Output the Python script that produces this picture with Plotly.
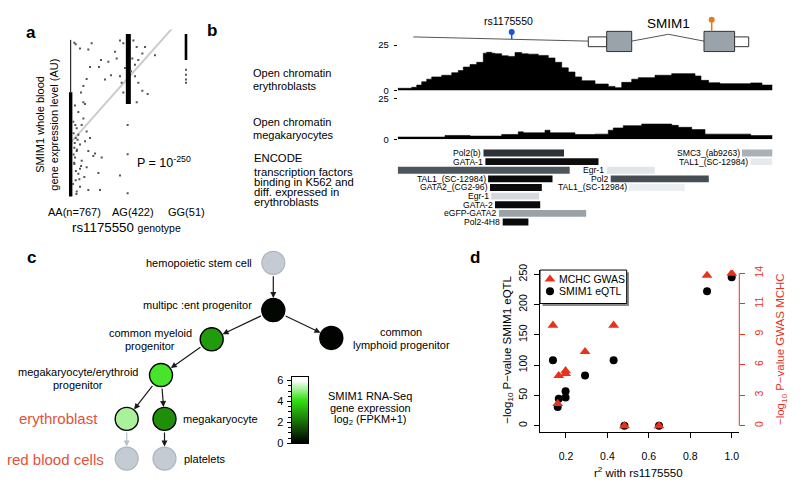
import numpy as np
import plotly.graph_objects as go

W, H = 800, 489
FONT = "Liberation Sans, Arial, Helvetica, sans-serif"
RED = "#e8321e"
LABEL_RED = "#e4513a"

# ======================= DATA =======================
# ---- Panel a : eQTL strip plot ----
geno_pos = [1, 2, 3]
geno_labels = ["AA(n=767)", "AG(422)", "GG(51)"]
dense_x = [1, 1, 2, 3]               # genotype of dense strip
dense_lo = [0.04, 6.4, 5.69, 8.37]    # expression range covered densely
dense_hi = [6.4, 9.6, 9.96, 9.96]
a_x = [1.064, 1.087, 1.364, 1.306, 1.162, 1.526, 1.653, 1.491, 1.335, 1.855,
       1.913, 1.769, 1.798, 1.699, 1.855, 1.277, 1.220, 1.179, 1.595, 2.087,
       2.145, 2.243, 2.173, 2.116, 2.046, 2.116, 2.173, 2.243, 2.335, 2.145,
       2.069, 2.289, 2.462, 1.988, 1.988, 1.988, 1.855, 1.075, 1.133, 1.220,
       1.249, 1.046, 1.104, 1.191, 1.277, 1.087, 1.162, 1.249, 1.306, 1.104,
       1.075, 1.191, 1.277, 1.133, 1.087, 1.237, 1.162, 1.104, 1.306, 1.393,
       1.480, 1.509, 1.538, 1.220, 1.133, 1.335, 1.422, 1.064, 1.162, 1.064,
       1.913, 1.884, 1.942, 3.0, 3.0, 3.0, 3.0,
       1.05, 1.07, 1.11, 1.06, 1.09, 1.15, 1.04, 1.08, 1.12, 1.05, 1.18, 1.10]
a_y = [9.42, 9.33, 9.40, 9.01, 9.07, 8.37, 8.27, 7.94, 7.94, 9.56,
       9.40, 8.87, 8.47, 7.44, 7.38, 7.22, 6.79, 6.39, 7.18, 9.56,
       9.17, 8.77, 8.37, 8.08, 7.68, 7.38, 6.98, 6.49, 6.29, 5.79,
       8.47, 9.17, 8.67, 4.40, 2.62, 0.24, 1.33, 5.60, 5.20, 5.79,
       5.69, 4.60, 4.21, 4.40, 4.01, 3.61, 3.21, 3.41, 2.82, 2.82,
       2.42, 2.22, 1.83, 1.43, 1.03, 1.23, 0.63, 0.34, 0.44, 2.52,
       1.47, 0.44, 2.42, 4.80, 3.81, 3.61, 2.66, 2.02, 1.73, 3.02,
       6.39, 6.98, 7.88, 7.78, 7.48, 7.18, 6.98,
       3.9, 3.3, 2.9, 2.1, 1.6, 1.1, 0.8, 4.4, 3.5, 2.6, 1.9, 0.2]
reg_x = [1.0, 2.8]
reg_y = [3.33, 10.46]

# ---- Panel b : genome tracks (bp offset from region start) ----
ery_edges = [0, 140, 190, 240, 290, 340, 440, 540, 606, 656, 723, 790, 856, 890, 940,
             973, 1040, 1106, 1173, 1240, 1306, 1406, 1506, 1573, 1640, 1706, 1773,
             1840, 1973, 2106, 2173, 2240, 2340, 2406, 2573, 2740, 2973, 3033, 3109,
             3223, 3530, 3643, 3748]
ery_vals = [1.25, 1.8, 3.0, 4.8, 6.25, 7.5, 8.4, 9.8, 11, 12.9, 14.3, 15.5, 20.5, 21,
            20.5, 20.2, 19.1, 18.75, 20.9, 20.2, 20, 19.3, 17.9, 15.5, 12.5, 10.2, 7.5,
            5.4, 3.6, 2.3, 1.6, 4.5, 6.25, 7.1, 8.4, 9.3, 8, 5.6, 4.3, 3.8, 4.2, 3.0]
mk_edges = [0, 473, 723, 1040, 1206, 1256, 1473, 1523, 1773, 1973, 2106, 2156, 2256,
            2440, 2740, 2806, 2940, 3073, 3530, 3748]
mk_vals = [1.4, 2.4, 2.0, 3.0, 4.6, 4.0, 5.6, 4.0, 3.0, 3.2, 5.6, 7, 8.4, 9.4, 8.6,
           7.4, 6, 3.2, 2.3]

tf_names = ["Pol2(b)", "SMC3_(ab9263)", "GATA-1", "TAL1_(SC-12984)", "",
            "Egr-1", "TAL1_(SC-12984)", "Pol2", "GATA2_(CG2-96)", "TAL1_(SC-12984)",
            "Egr-1", "GATA-2", "eGFP-GATA2", "Pol2-4H8"]
tf_rows = [0, 0, 1, 1, 2, 2, 3, 3, 4, 4, 5, 6, 7, 8]
tf_start = [858, 3443, 877, 3529, 0, 2092, 904, 2130, 923, 2314, 935, 973, 1012, 1050]
tf_end = [1663, 3748, 2008, 3748, 1720, 2571, 1548, 3111, 1441, 2870, 1414, 1425, 1885, 1307]
tf_colors = ["#2b3238", "#a9b1b6", "#0d0d0d", "#e6eaee", "#4b565d", "#e1e5ea",
             "#0a0a0a", "#464e54", "#0a0a0a", "#eceff2", "#d3d9de", "#0a0a0a",
             "#9aa2a7", "#0a0a0a"]

gene_line_x = [156, 1906]
exon_start = [1906, 2090, 3063, 3369]
exon_end = [2090, 2340, 3369, 3510]
exon_kind = ["utr", "cds", "cds", "utr"]
intron_x = [2340, 2707, 3063]
snp_pos = [1140, 3140]
snp_label = ["rs1175550", ""]
snp_color = ["#2050e0", "#e07b20"]

# ---- Panel c : haematopoietic tree ----
node_names = ["hemopoietic stem cell", "multipotent progenitor", "common myeloid progenitor",
              "common lymphoid progenitor", "megakaryocyte/erythroid progenitor",
              "erythroblast", "megakaryocyte", "red blood cells", "platelets"]
node_expr = [None, 0.15, 2.8, 0.05, 4.3, 5.2, 2.6, None, None]   # log2(FPKM+1)
node_x = [273.3, 273.3, 211.7, 331.3, 161.0, 126.7, 164.5, 126.7, 164.5]   # layout
node_y = [263.3, 311.7, 341.7, 340.3, 378.3, 423.3, 423.3, 464.0, 464.0]
edges = [(0, 1), (1, 2), (1, 3), (2, 4), (4, 5), (4, 6), (5, 7), (6, 8)]
cbar_ticks = [0, 2, 4, 6]

# ---- Panel d : eQTL vs GWAS ----
r2 = [0.137, 0.165, 0.160, 0.198, 0.198, 0.292, 0.430, 0.482, 0.649, 0.881, 1.0]
eqtl = [108, 44.5, 31, 57, 46.7, 83, 108, 0, 0, 222, 245]
gwas = [9.22, 4.6, 2.03, 5.04, 4.78, 6.8, 9.22, 0, 0, 13.8, 14.0]
d_xticks = [0.2, 0.4, 0.6, 0.8, 1.0]
d_yticks = [0, 50, 100, 150, 200, 250]
d_rticks = [0, 2.8, 5.6, 8.4, 11.2, 14]
d_rticktext = ["0", "3", "6", "9", "11", "14"]

# ======================= FIGURE =======================
def pxx(x):
    return x / W


def pxy(y):
    return 1 - y / H


def txt(x, y, s, size=11, color="black", xanchor="center", yanchor="middle", angle=0):
    return dict(x=pxx(x), y=pxy(y), xref="paper", yref="paper", text=s, showarrow=False,
                font=dict(family=FONT, size=size, color=color), xanchor=xanchor,
                yanchor=yanchor, textangle=angle, borderpad=0)


fig = go.Figure()
annotations = []
shapes = []

# ---------- panel a ----------
fig.add_trace(go.Scatter(x=reg_x, y=reg_y, mode="lines", line=dict(color="#c8cccf", width=2),
                         xaxis="x", yaxis="y", hoverinfo="skip"))
for xv, lo, hi, w in zip(dense_x, dense_lo, dense_hi, [3.4, 1.0, 5.0, 2.6]):
    fig.add_trace(go.Scatter(x=[xv, xv], y=[lo, hi], mode="lines",
                             line=dict(color="black", width=w), xaxis="x", yaxis="y",
                             hoverinfo="skip"))
fig.add_trace(go.Scatter(x=a_x, y=a_y, mode="markers",
                         marker=dict(color="#555555", size=2.0, symbol="square"),
                         xaxis="x", yaxis="y", hoverinfo="skip"))

label_px = [74.2, 132.5, 186]
for lab, xp in zip(geno_labels, label_px):
    annotations.append(txt(xp, 211.5, lab, size=11))
annotations.append(txt(126.7, 227, "rs1175550 <span style='font-size:10.5px'>genotype</span>", size=13.3))
annotations.append(txt(40, 121.7, "SMIM1 whole blood", size=11, angle=-90))
annotations.append(txt(54, 121.7, "gene expression level (AU)", size=11, angle=-90))
annotations.append(txt(136, 159.5, "P = 10<sup>%d</sup>" % -250, size=12.5, xanchor="left"))

# ---------- panel b ----------
fig.add_trace(go.Scatter(x=ery_edges, y=ery_vals + [ery_vals[-1]], mode="lines",
                         line=dict(shape="hv", color="black", width=0.6), fill="tozeroy",
                         fillcolor="black", xaxis="x2", yaxis="y2", hoverinfo="skip"))
fig.add_trace(go.Scatter(x=mk_edges, y=mk_vals + [mk_vals[-1]], mode="lines",
                         line=dict(shape="hv", color="black", width=0.6), fill="tozeroy",
                         fillcolor="black", xaxis="x2", yaxis="y3", hoverinfo="skip"))
fig.add_trace(go.Bar(orientation="h", y=tf_rows, base=tf_start,
                     x=[e - s for s, e in zip(tf_start, tf_end)],
                     marker=dict(color=tf_colors, line=dict(width=0)), width=0.8,
                     xaxis="x2", yaxis="y4", hoverinfo="skip"))
for name, r, s in zip(tf_names, tf_rows, tf_start):
    if name:
        annotations.append(dict(x=s, y=r, xref="x2", yref="y4", text=name, showarrow=False,
                                xanchor="right", yanchor="middle", xshift=-1.5,
                                font=dict(family=FONT, size=8.6, color="black"), borderpad=0))

# gene model (y in gene-track units, reversed axis)
shapes.append(dict(type="line", xref="x2", yref="y5", x0=gene_line_x[0], y0=31.7,
                   x1=gene_line_x[1], y1=36.0, line=dict(color="#555555", width=1)))
shapes.append(dict(type="path", xref="x2", yref="y5",
                   path="M %g 36 L %g 29 L %g 36" % tuple(intron_x),
                   line=dict(color="#555555", width=1)))
for s, e, k in zip(exon_start, exon_end, exon_kind):
    y0, y1 = (31.7, 41.7) if k == "utr" else (26.0, 46.7)
    shapes.append(dict(type="rect", xref="x2", yref="y5", x0=s, x1=e, y0=y0, y1=y1,
                       fillcolor="white" if k == "utr" else "#9aa3a9",
                       line=dict(color="#333333", width=1)))
snp_head = [26.7, 14.0]
snp_base = [34.1, 26.0]
for p, hy, by, c in zip(snp_pos, snp_head, snp_base, snp_color):
    shapes.append(dict(type="line", xref="x2", yref="y5", x0=p, x1=p, y0=hy, y1=by,
                       line=dict(color=c, width=1.5)))
fig.add_trace(go.Scatter(x=snp_pos, y=snp_head, mode="markers",
                         marker=dict(color=snp_color, size=6), xaxis="x2", yaxis="y5",
                         hoverinfo="skip"))
annotations.append(txt(508.3, 15.0, snp_label[0], size=10.5))
annotations.append(txt(668.3, 18.3, "SMIM1", size=13.5))

annotations.append(txt(252, 69, "Open chromatin", size=11, xanchor="left"))
annotations.append(txt(252, 81.7, "erythroblasts", size=11, xanchor="left"))
annotations.append(txt(252, 119, "Open chromatin", size=11, xanchor="left"))
annotations.append(txt(252, 132.3, "megakaryocytes", size=11, xanchor="left"))
for yy, s in zip([156, 170, 180.7, 191, 201],
                 ["ENCODE", "transcription factors", "binding in K562 and",
                  "diff. expressed in", "erythroblasts"]):
    annotations.append(txt(252.7, yy, s, size=11.3, xanchor="left"))

# ---------- panel c ----------
cscale = [[0.0, "#000000"], [0.68, "#30e010"], [1.0, "#ffffff"]]
for (a, b) in edges:
    col = "#b8c0c8" if node_names[b] == "red blood cells" else "#1a1a1a"
    annotations.append(dict(x=node_x[b], y=node_y[b], ax=node_x[a], ay=node_y[a],
                            xref="x3", yref="y6", axref="x3", ayref="y6", text="",
                            showarrow=True, arrowhead=2, arrowsize=1, arrowwidth=1.2,
                            arrowcolor=col, standoff=12, startstandoff=12))
gray_idx = [i for i, v in enumerate(node_expr) if v is None]
col_idx = [i for i, v in enumerate(node_expr) if v is not None]
fig.add_trace(go.Scatter(x=[node_x[i] for i in gray_idx], y=[node_y[i] for i in gray_idx],
                         mode="markers", marker=dict(size=23, color="#c4cbd2",
                                                     line=dict(color="#adb5bd", width=1.2)),
                         xaxis="x3", yaxis="y6", hoverinfo="skip"))
fig.add_trace(go.Scatter(x=[node_x[i] for i in col_idx], y=[node_y[i] for i in col_idx],
                         mode="markers",
                         marker=dict(size=23, color=[node_expr[i] for i in col_idx],
                                     colorscale=cscale, cmin=0, cmax=6,
                                     line=dict(color="black", width=1.4)),
                         xaxis="x3", yaxis="y6", hoverinfo="skip"))
annotations.append(txt(253, 263.3, "hemopoietic stem cell", xanchor="right"))
annotations.append(txt(253, 306.7, "multipc :ent progenitor", xanchor="right"))
annotations.append(txt(150, 335, "common myeloid"))
annotations.append(txt(150, 348.3, "progenitor"))
annotations.append(txt(401, 334.3, "common"))
annotations.append(txt(401, 347.3, "lymphoid progenitor"))
annotations.append(txt(77.7, 375, "megakaryocyte/erythroid"))
annotations.append(txt(77.7, 388.3, "progenitor"))
annotations.append(txt(99.3, 422.5, "erythroblast", size=15, color=LABEL_RED, xanchor="right"))
annotations.append(txt(105, 464.5, "red blood cells", size=15, color=LABEL_RED, xanchor="right"))
annotations.append(txt(181.7, 423.3, "megakaryocyte", xanchor="left"))
annotations.append(txt(182.7, 464, "platelets", xanchor="left"))

# colour key
levels = np.linspace(0, 6.4, 129)
fig.add_trace(go.Heatmap(x=[0], y=levels, z=[[v] for v in levels], colorscale=cscale,
                         zmin=0, zmax=6, showscale=False, xaxis="x4", yaxis="y7",
                         hoverinfo="skip"))
annotations.append(txt(370, 399.3, "SMIM1 RNA-Seq"))
annotations.append(txt(370, 412.3, "gene expression"))
annotations.append(txt(370, 424.5, "log<sub>2</sub> (FPKM+1)"))

# ---------- panel d ----------
fig.add_trace(go.Scatter(x=r2, y=eqtl, mode="markers", name="SMIM1 eQTL",
                         marker=dict(color="black", size=8), xaxis="x5", yaxis="y8",
                         hoverinfo="skip"))
fig.add_trace(go.Scatter(x=r2, y=gwas, mode="markers", name="MCHC GWAS",
                         marker=dict(color=RED, size=9.5, symbol="triangle-up"),
                         xaxis="x5", yaxis="y9", hoverinfo="skip"))
# legend box (manual, R style with shadow)
shapes.append(dict(type="rect", xref="paper", yref="paper", x0=pxx(542.5), x1=pxx(629),
                   y0=pxy(307.5), y1=pxy(273), fillcolor="#8a8a8a", line=dict(width=0),
                   layer="below"))
shapes.append(dict(type="rect", xref="paper", yref="paper", x0=pxx(540), x1=pxx(626.7),
                   y0=pxy(305), y1=pxy(270.7), fillcolor="white",
                   line=dict(color="black", width=1), layer="below"))
fig.add_trace(go.Scatter(x=[0.1227], y=[241.9], mode="markers",
                         marker=dict(color=RED, size=9.5, symbol="triangle-up"),
                         xaxis="x5", yaxis="y8", hoverinfo="skip"))
fig.add_trace(go.Scatter(x=[0.1227], y=[222.1], mode="markers",
                         marker=dict(color="black", size=8), xaxis="x5", yaxis="y8",
                         hoverinfo="skip"))
annotations.append(txt(558.3, 280, "MCHC GWAS", size=10.5, xanchor="left"))
annotations.append(txt(558.3, 292.3, "SMIM1 eQTL", size=10.5, xanchor="left"))
shapes.append(dict(type="line", xref="paper", yref="y9", x0=pxx(739.3), x1=pxx(739.3),
                   y0=0, y1=14, line=dict(color=RED, width=1)))
annotations.append(txt(508.3, 352, "\u2212log<sub>10</sub> P\u2212value SMIM1 eQTL",
                       size=11.5, angle=-90))
annotations.append(txt(781.7, 352, "\u2212log<sub>10</sub> P\u2212value GWAS MCHC",
                       size=11.5, color=RED, angle=-90))
annotations.append(txt(638.3, 477.3, "r<sup>2</sup> with rs1175550", size=11.5))

# panel letters
for lx, ly, letter in [(30.5, 27, "a"), (211.5, 25, "b"), (31.7, 258.3, "c"), (475, 258.3, "d")]:
    annotations.append(txt(lx, ly, "<b>%s</b>" % letter, size=17))

hidden = dict(visible=False, showgrid=False, zeroline=False)
trackaxis = dict(range=[0, 25], tickvals=[0, 25], ticks="outside", ticklen=3, tickwidth=1,
                 tickcolor="black", showline=False, showgrid=False, zeroline=False,
                 tickfont=dict(family=FONT, size=9.5, color="black"), anchor="x2",
                 ticklabelstandoff=3)

fig.update_layout(
    width=W, height=H, autosize=False, margin=dict(l=0, r=0, t=0, b=0),
    paper_bgcolor="white", plot_bgcolor="rgba(0,0,0,0)", showlegend=False,
    font=dict(family=FONT, size=11, color="black"),
    # panel a
    xaxis=dict(domain=[pxx(55), pxx(200)], range=[0.728, 3.243], anchor="y", **hidden),
    yaxis=dict(domain=[pxy(199), pxy(24)], range=[-0.18, 10.24], anchor="x", **hidden),
    # panel b
    xaxis2=dict(domain=[pxx(397.7), pxx(772.5)], range=[0, 3748], anchor="y2", **hidden),
    yaxis2=dict(domain=[pxy(86.7), pxy(40)], **trackaxis),
    yaxis3=dict(domain=[pxy(136.7), pxy(95)], **trackaxis),
    yaxis4=dict(domain=[pxy(225.8), pxy(146.3)], range=[8.5, -0.5], anchor="x2", **hidden),
    yaxis5=dict(domain=[pxy(50), pxy(5)], range=[50, 5], anchor="x2", **hidden),
    # panel c
    xaxis3=dict(domain=[0, pxx(480)], range=[0, 480], anchor="y6", **hidden),
    yaxis6=dict(domain=[pxy(489), pxy(240)], range=[489, 240], anchor="x3", **hidden),
    xaxis4=dict(domain=[pxx(291.7), pxx(308.3)], range=[-0.5, 0.5], anchor="y7",
                showline=True, mirror=True, linecolor="black", linewidth=1.3,
                showticklabels=False, ticks="", showgrid=False, zeroline=False),
    yaxis7=dict(domain=[pxy(448.3), pxy(380)], range=[0, 6.37], anchor="x4",
                showline=True, mirror=True, linecolor="black", linewidth=1.3,
                tickvals=cbar_ticks, ticks="outside", ticklen=4, tickcolor="black",
                tickfont=dict(family=FONT, size=11), showgrid=False, zeroline=False,
                minor=dict(ticks="outside", ticklen=2.5, dtick=0.5, tickcolor="black",
                           showgrid=False),
                ticklabelstandoff=1),
    # panel d
    xaxis5=dict(domain=[pxx(540), pxx(739.3)], range=[0.0745, 1.0367], anchor="y8",
                showline=True, linecolor="black", linewidth=1, ticks="outside", ticklen=5,
                tickcolor="black", tickvals=d_xticks,
                ticktext=["%.1f" % v for v in d_xticks],
                tickfont=dict(family=FONT, size=10.5), showgrid=False, zeroline=False,
                ticklabelstandoff=9),
    yaxis8=dict(domain=[pxy(436.7), pxy(270.7)], range=[-10.3, 256.9], anchor="x5",
                showline=True, linecolor="black", linewidth=1, ticks="outside", ticklen=5,
                tickcolor="black", tickvals=d_yticks, tickangle=-90,
                tickfont=dict(family=FONT, size=10.5), showgrid=False, zeroline=False,
                ticklabelstandoff=3),
    yaxis9=dict(overlaying="y8", side="right", anchor="x5", range=[-0.573, 14.296],
                showline=False, ticks="outside", ticklen=5, tickcolor=RED,
                tickvals=d_rticks, ticktext=d_rticktext, tickangle=-90,
                tickfont=dict(family=FONT, size=10.5, color=RED), showgrid=False,
                zeroline=False, ticklabelstandoff=5),
    annotations=annotations,
    shapes=shapes,
)

fig.write_html("out.html", config={"displayModeBar": False},
               post_script="document.body.style.margin='0px';document.body.style.overflow='hidden';")
